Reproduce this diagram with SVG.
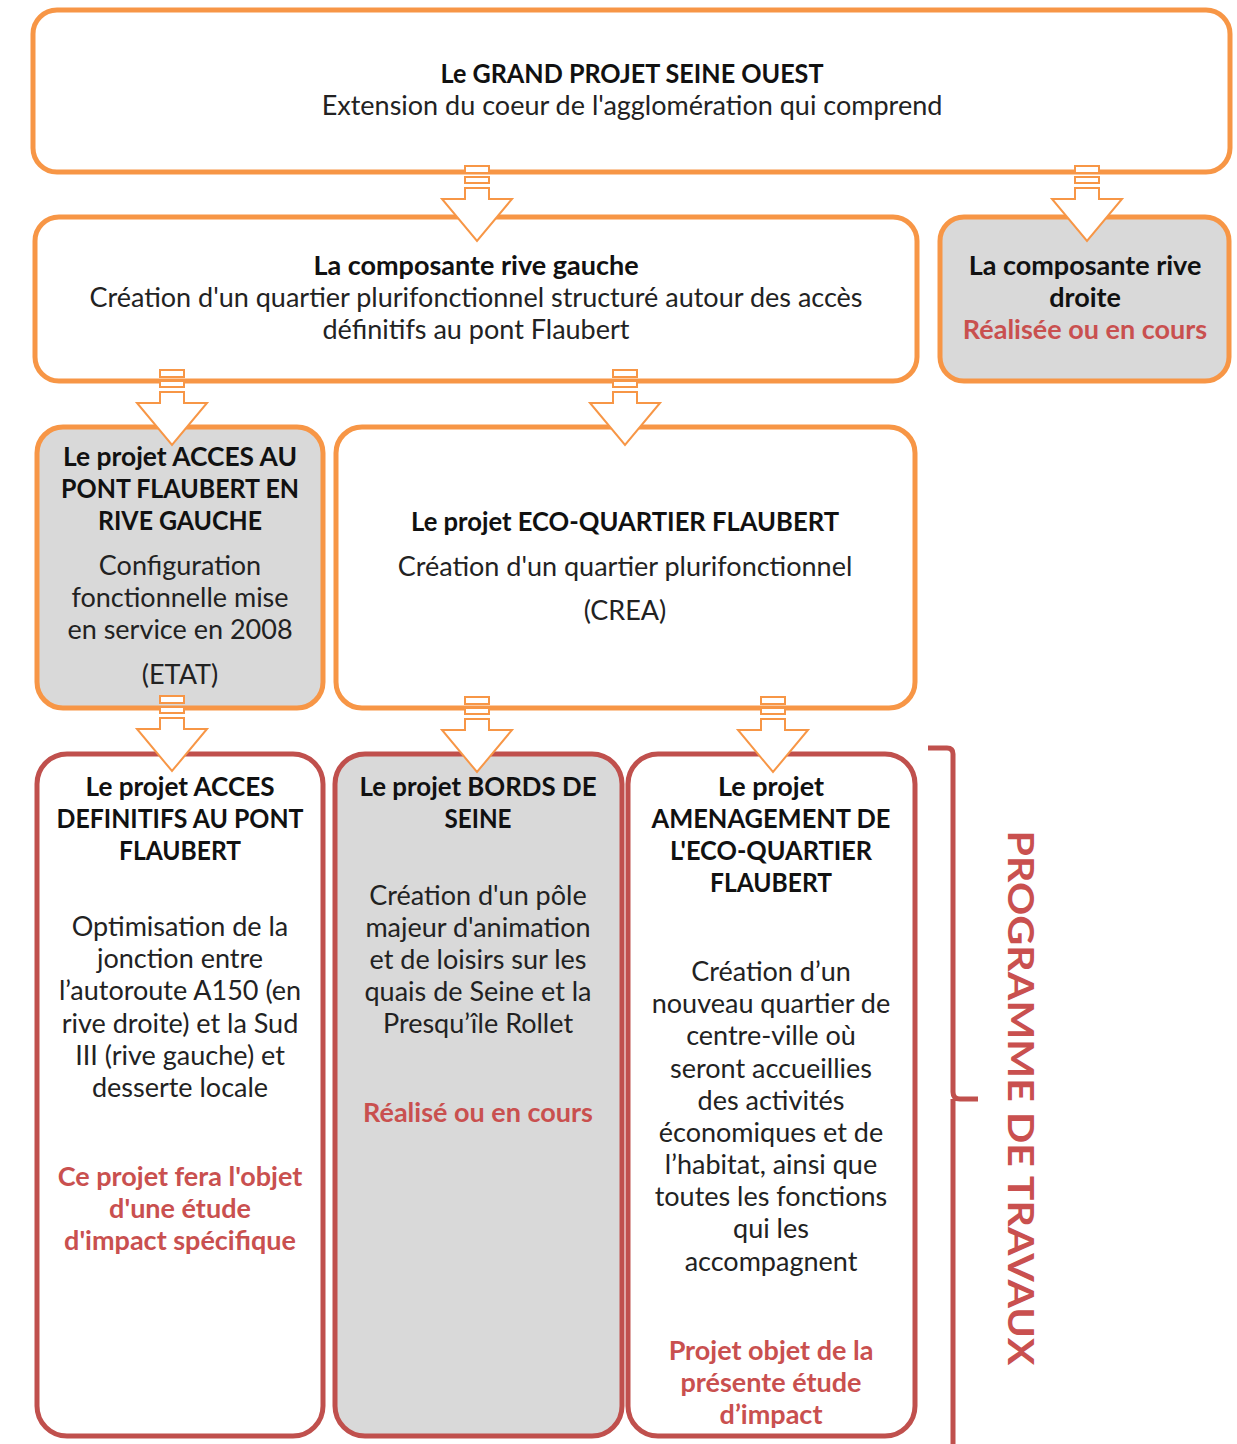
<svg xmlns="http://www.w3.org/2000/svg" width="1237" height="1444" viewBox="0 0 1237 1444">
<style>
text{font-family:Lato,"Liberation Sans",sans-serif;font-size:27px;fill:#222;text-anchor:middle}
.b{font-weight:bold;fill:#111}
.r{font-weight:bold;fill:#c9504f}
.o{fill:#fff;stroke:#f79646;stroke-width:5}
.og{fill:#d9d9d9;stroke:#f79646;stroke-width:5}
.rd{fill:#fff;stroke:#c0504d;stroke-width:5}
.rg{fill:#d9d9d9;stroke:#c0504d;stroke-width:5}
.arr{fill:#fff;stroke:#f79646;stroke-width:2}
.vt{font-size:36px;font-weight:bold;fill:#c9504f}
</style>
<defs>
<g id="arrow">
<rect class="arr" x="-12" y="-75" width="24" height="7"/>
<rect class="arr" x="-12" y="-64" width="24" height="6"/>
<path class="arr" d="M-12,-53 H12 V-42 H35 L0,0 L-35,-42 H-12 Z"/>
</g>
</defs>
<g id="n-grand-projet">
<rect class="o" x="33" y="10" width="1197" height="162" rx="24"/>
<text class="b" x="632" y="83" textLength="383" lengthAdjust="spacingAndGlyphs">Le GRAND PROJET SEINE OUEST</text>
<text x="632" y="115">Extension du coeur de l'agglomération qui comprend</text>
</g>
<g id="n-rive-gauche">
<rect class="o" x="35" y="217" width="882" height="164" rx="24"/>
<text class="b" x="476" y="275">La composante rive gauche</text>
<text x="476" y="307">Création d'un quartier plurifonctionnel structuré autour des accès</text>
<text x="476" y="339">définitifs au pont Flaubert</text>
</g>
<g id="n-rive-droite">
<rect class="og" x="940" y="217" width="289" height="164" rx="24"/>
<text class="b" x="1085" y="275">La composante rive</text>
<text class="b" x="1085" y="307">droite</text>
<text class="r" x="1085" y="339">Réalisée ou en cours</text>
</g>
<g id="n-acces-pont">
<rect class="og" x="37" y="427" width="286" height="281" rx="26"/>
<text class="b" x="180" y="466" textLength="234" lengthAdjust="spacingAndGlyphs">Le projet ACCES AU</text>
<text class="b" x="180" y="498" textLength="238" lengthAdjust="spacingAndGlyphs">PONT FLAUBERT EN</text>
<text class="b" x="180" y="530" textLength="164" lengthAdjust="spacingAndGlyphs">RIVE GAUCHE</text>
<text x="180" y="575">Configuration</text>
<text x="180" y="607">fonctionnelle mise</text>
<text x="180" y="639">en service en 2008</text>
<text x="180" y="684">(ETAT)</text>
</g>
<g id="n-eco-quartier">
<rect class="o" x="336" y="427" width="579" height="281" rx="26"/>
<text class="b" x="625" y="531" textLength="428" lengthAdjust="spacingAndGlyphs">Le projet ECO-QUARTIER FLAUBERT</text>
<text x="625" y="576">Création d'un quartier plurifonctionnel</text>
<text x="625" y="620">(CREA)</text>
</g>
<g id="n-acces-definitifs">
<rect class="rd" x="37" y="754" width="286" height="682" rx="30"/>
<text class="b" x="180" y="796" textLength="189" lengthAdjust="spacingAndGlyphs">Le projet ACCES</text>
<text class="b" x="180" y="828" textLength="247" lengthAdjust="spacingAndGlyphs">DEFINITIFS AU PONT</text>
<text class="b" x="180" y="860" textLength="122" lengthAdjust="spacingAndGlyphs">FLAUBERT</text>
<text x="180" y="936">Optimisation de la</text>
<text x="180" y="968">jonction entre</text>
<text x="180" y="1000">l’autoroute A150 (en</text>
<text x="180" y="1033">rive droite) et la Sud</text>
<text x="180" y="1065">III (rive gauche) et</text>
<text x="180" y="1097">desserte locale</text>
<text class="r" x="180" y="1186">Ce projet fera l'objet</text>
<text class="r" x="180" y="1218">d'une étude</text>
<text class="r" x="180" y="1250">d'impact spécifique</text>
</g>
<g id="n-bords-seine">
<rect class="rg" x="335" y="754" width="287" height="682" rx="30"/>
<text class="b" x="478" y="796" textLength="237" lengthAdjust="spacingAndGlyphs">Le projet BORDS DE</text>
<text class="b" x="478" y="828" textLength="67" lengthAdjust="spacingAndGlyphs">SEINE</text>
<text x="478" y="905">Création d'un pôle</text>
<text x="478" y="937">majeur d'animation</text>
<text x="478" y="969">et de loisirs sur les</text>
<text x="478" y="1001">quais de Seine et la</text>
<text x="478" y="1033">Presqu’île Rollet</text>
<text class="r" x="478" y="1122">Réalisé ou en cours</text>
</g>
<g id="n-amenagement">
<rect class="rd" x="628" y="754" width="287" height="682" rx="30"/>
<text class="b" x="771" y="796">Le projet</text>
<text class="b" x="771" y="828" textLength="239" lengthAdjust="spacingAndGlyphs">AMENAGEMENT DE</text>
<text class="b" x="771" y="860" textLength="202" lengthAdjust="spacingAndGlyphs">L'ECO-QUARTIER</text>
<text class="b" x="771" y="892" textLength="122" lengthAdjust="spacingAndGlyphs">FLAUBERT</text>
<text x="771" y="981">Création d’un</text>
<text x="771" y="1013">nouveau quartier de</text>
<text x="771" y="1045">centre-ville où</text>
<text x="771" y="1078">seront accueillies</text>
<text x="771" y="1110">des activités</text>
<text x="771" y="1142">économiques et de</text>
<text x="771" y="1174">l’habitat, ainsi que</text>
<text x="771" y="1206">toutes les fonctions</text>
<text x="771" y="1238">qui les</text>
<text x="771" y="1271">accompagnent</text>
<text class="r" x="771" y="1360">Projet objet de la</text>
<text class="r" x="771" y="1392">présente étude</text>
<text class="r" x="771" y="1424">d’impact</text>
</g>
<g id="connectors">
<use href="#arrow" x="477" y="241"/>
<use href="#arrow" x="1087" y="241"/>
<use href="#arrow" x="172" y="445"/>
<use href="#arrow" x="625" y="445"/>
<use href="#arrow" x="172" y="771"/>
<use href="#arrow" x="477" y="772"/>
<use href="#arrow" x="773" y="772"/>
</g>
<g id="programme-bracket">
<path d="M928,748 H947 Q953,748 953,754 V1092 Q953,1099 960,1099 H978 M953,1099 Q953,1106 953,1110 V1450" fill="none" stroke="#c0504d" stroke-width="5"/>
<text class="vt" transform="translate(1008,1098) rotate(90)" textLength="535" lengthAdjust="spacingAndGlyphs">PROGRAMME DE TRAVAUX</text>
</g>
</svg>
